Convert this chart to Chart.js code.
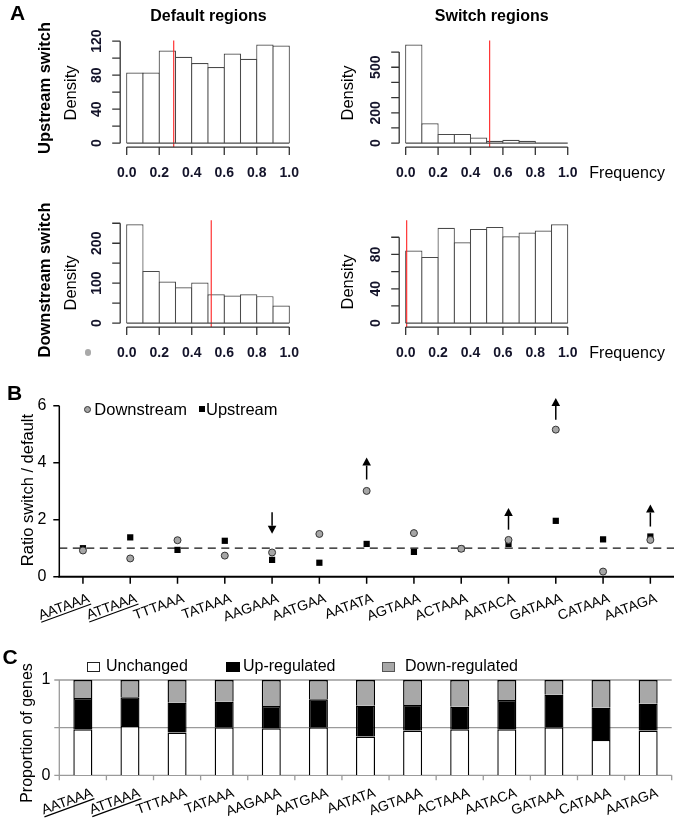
<!DOCTYPE html>
<html><head><meta charset="utf-8">
<script src="https://cdn.jsdelivr.net/npm/chart.js@4.4.1/dist/chart.umd.min.js"></script>
<style>
html,body{margin:0;padding:0;background:#fff;}
#fig{position:relative;width:679px;height:824px;overflow:hidden;font-family:"Liberation Sans",Arial,Helvetica,sans-serif;color:#000;}
#fig canvas{position:absolute;left:0;top:0;}
.t{position:absolute;white-space:nowrap;line-height:1;transform:translate(-50%,-50%);}
.rot{transform:translate(-50%,-50%) rotate(-90deg);}
.l{position:absolute;white-space:nowrap;line-height:1;transform:translateY(-50%);}
.b{font-weight:bold;}
.box{position:absolute;box-sizing:border-box;}
</style></head>
<body><div id="fig">
<canvas id="cUpDef" width="679" height="824"></canvas>
<canvas id="cUpSw" width="679" height="824"></canvas>
<canvas id="cDnDef" width="679" height="824"></canvas>
<canvas id="cDnSw" width="679" height="824"></canvas>
<canvas id="cRatio" width="679" height="824"></canvas>
<canvas id="cProp" width="679" height="824"></canvas>

<div class="t b" style="left:17.5px;top:11.5px;font-size:21px">A</div>
<div class="t b" style="left:208.5px;top:16px;font-size:16px">Default regions</div>
<div class="t b" style="left:491.7px;top:16px;font-size:16px">Switch regions</div>
<div class="t b rot" style="left:44px;top:88px;font-size:16.5px">Upstream switch</div>
<div class="t b rot" style="left:44px;top:280px;font-size:16.5px">Downstream switch</div>
<div class="t rot" style="left:70px;top:92.5px;font-size:16.5px">Density</div>
<div class="t rot" style="left:346.7px;top:93.3px;font-size:16.5px">Density</div>
<div class="t rot" style="left:70px;top:282.5px;font-size:16.5px">Density</div>
<div class="t rot" style="left:346.7px;top:281.7px;font-size:16.5px">Density</div>
<div class="l" style="left:589.3px;top:173.3px;font-size:16px">Frequency</div>
<div class="l" style="left:589.3px;top:353.3px;font-size:16px">Frequency</div>
<div class="box" style="left:84.5px;top:349px;width:6.5px;height:6.5px;border-radius:50%;background:#a9a9a9"></div>

<div class="t b" style="left:14.7px;top:391.7px;font-size:21px">B</div>
<div class="t rot" style="left:26.7px;top:490px;font-size:16.5px">Ratio switch / default</div>
<div class="box" style="left:83.7px;top:405.8px;width:7px;height:7px;border-radius:50%;background:#a6a6a6;border:1px solid #333"></div>
<div class="l" style="left:94.3px;top:409.3px;font-size:16.5px">Downstream</div>
<div class="box" style="left:198.7px;top:406.3px;width:6px;height:6px;background:#000"></div>
<div class="l" style="left:206px;top:409.3px;font-size:16.5px">Upstream</div>

<div class="t b" style="left:10px;top:656px;font-size:21px">C</div>
<div class="t rot" style="left:26.7px;top:733px;font-size:16px">Proportion of genes</div>
<div class="box" style="left:87.3px;top:661.7px;width:12.7px;height:10px;background:#fff;border:1px solid #222"></div>
<div class="l" style="left:106px;top:665.5px;font-size:16px">Unchanged</div>
<div class="box" style="left:226px;top:661.7px;width:14px;height:10px;background:#000"></div>
<div class="l" style="left:243px;top:665.5px;font-size:16px">Up-regulated</div>
<div class="box" style="left:381.7px;top:661.7px;width:13.3px;height:10px;background:#a8a8a8;border:1px solid #555"></div>
<div class="l" style="left:405px;top:665.5px;font-size:16px">Down-regulated</div>
</div>
<script>
const W = 679, H = 824;
const FONT = '"Liberation Sans", Arial, Helvetica, sans-serif';

// ---------- Panel A data ----------
const binCenters = [0.05, 0.15, 0.25, 0.35, 0.45, 0.55, 0.65, 0.75, 0.85, 0.95];
const binWidth = 0.1;
const freqTicks = [0, 0.2, 0.4, 0.6, 0.8, 1.0];
const freqTickLabels = ['0.0', '0.2', '0.4', '0.6', '0.8', '1.0'];

const upDefaultDensity = [83, 83, 109, 101.6, 94.2, 89.5, 105.5, 99.3, 116.1, 114.9];
const upSwitchDensity = [650, 131, 61, 61, 37, 15, 22, 15, 0, 0];
const downDefaultDensity = [247.5, 130.8, 104, 90, 101.7, 72.5, 69, 72.5, 67.5, 44];
const downSwitchDensity = [84.5, 77.1, 110.9, 94.2, 109.7, 112, 101.2, 105.4, 107.8, 115.1];

const upDefaultMarker = 0.289;
const upSwitchMarker = 0.518;
const downDefaultMarker = 0.52;
const downSwitchMarker = 0.006;

const upDefaultYTicks = [0, 20, 40, 60, 80, 100, 120];
const upDefaultYLabels = ['0', '', '40', '', '80', '', '120'];
const upSwitchYTicks = [0, 100, 200, 300, 400, 500, 600];
const upSwitchYLabels = ['0', '', '200', '', '', '500', ''];
const downDefaultYTicks = [0, 50, 100, 150, 200, 250];
const downDefaultYLabels = ['0', '', '100', '', '200', ''];
const downSwitchYTicks = [0, 20, 40, 60, 80, 100];
const downSwitchYLabels = ['0', '', '40', '', '80', ''];

// ---------- Panel B data ----------
const motifs = ['AATAAA', 'ATTAAA', 'TTTAAA', 'TATAAA', 'AAGAAA', 'AATGAA', 'AATATA',
                'AGTAAA', 'ACTAAA', 'AATACA', 'GATAAA', 'CATAAA', 'AATAGA'];
const underlinedMotifs = ['AATAAA', 'ATTAAA'];
const downstreamRatio = [0.92, 0.64, 1.28, 0.74, 0.85, 1.50, 3.01, 1.53, 0.98, 1.29, 5.16, 0.18, 1.29];
const upstreamRatio = [1.00, 1.38, 0.94, 1.26, 0.59, 0.49, 1.15, 0.87, 0.98, 1.15, 1.96, 1.31, 1.41];
const ratioTicks = [0, 2, 4, 6];
const ratioTickLabels = ['0', '2', '4', '6'];
const ratioReference = 1;
const arrowMotifs = ['AAGAAA', 'AATATA', 'AATACA', 'GATAAA', 'AATAGA'];
const arrowFrom = [2.26, 3.41, 1.65, 5.51, 1.76];
const arrowTo = [1.51, 4.18, 2.41, 6.27, 2.53];

// ---------- Panel C data ----------
const unchangedShare = [0.483, 0.517, 0.448, 0.503, 0.493, 0.503, 0.406, 0.469, 0.483, 0.483, 0.503, 0.371, 0.469];
const upRegulatedShare = [0.328, 0.301, 0.314, 0.270, 0.234, 0.294, 0.325, 0.269, 0.237, 0.307, 0.343, 0.339, 0.283];
const downRegulatedShare = [0.189, 0.182, 0.238, 0.227, 0.273, 0.203, 0.269, 0.262, 0.280, 0.210, 0.154, 0.290, 0.248];
const propTicks = [0, 0.5, 1];
const propTickLabels = ['0', '', '1'];

// ---------- helpers ----------
function pad(box) {
  return { left: box.l, top: box.t, right: W - box.r, bottom: H - box.b };
}
const baseOpts = { responsive: false, animation: false, events: [] };

function histAxesPlugin(yTicks, yLabels) {
  return {
    id: 'histAxes',
    afterDraw(chart) {
      const { ctx, chartArea: a, scales: { x, y } } = chart;
      ctx.save();
      // histogram baseline (bin bottoms)
      ctx.strokeStyle = '#4a4a4a'; ctx.lineWidth = 1.2;
      ctx.beginPath();
      ctx.moveTo(x.getPixelForValue(binCenters[0] - binWidth / 2), y.getPixelForValue(0));
      ctx.lineTo(x.getPixelForValue(binCenters[binCenters.length - 1] + binWidth / 2), y.getPixelForValue(0));
      ctx.stroke();
      // x axis
      ctx.strokeStyle = '#333'; ctx.lineWidth = 1.3;
      ctx.beginPath();
      ctx.moveTo(x.getPixelForValue(freqTicks[0]), a.bottom);
      ctx.lineTo(x.getPixelForValue(freqTicks[freqTicks.length - 1]), a.bottom);
      freqTicks.forEach(v => { const p = x.getPixelForValue(v); ctx.moveTo(p, a.bottom); ctx.lineTo(p, a.bottom + 8); });
      // y axis
      ctx.moveTo(a.left, y.getPixelForValue(yTicks[0]));
      ctx.lineTo(a.left, y.getPixelForValue(yTicks[yTicks.length - 1]));
      yTicks.forEach(v => { const p = y.getPixelForValue(v); ctx.moveTo(a.left, p); ctx.lineTo(a.left - 8, p); });
      ctx.stroke();
      ctx.fillStyle = '#14142a';
      ctx.font = 'bold 14px ' + FONT;
      ctx.textAlign = 'center'; ctx.textBaseline = 'middle';
      freqTicks.forEach((v, i) => ctx.fillText(freqTickLabels[i], x.getPixelForValue(v), a.bottom + 26));
      yTicks.forEach((v, i) => {
        if (!yLabels[i]) return;
        ctx.save();
        ctx.translate(a.left - 23, y.getPixelForValue(v));
        ctx.rotate(-Math.PI / 2);
        ctx.fillText(yLabels[i], 0, 0);
        ctx.restore();
      });
      ctx.restore();
    }
  };
}

function histChart(id, box, values, marker, yTicks, yLabels) {
  const top = Math.max(...values);
  const yMin = -0.04 * top, yMax = 1.04 * top;
  new Chart(document.getElementById(id), {
    type: 'bar',
    data: {
      datasets: [
        { type: 'line', data: [{ x: marker, y: yMin }, { x: marker, y: yMax }],
          borderColor: 'rgba(255,30,30,0.9)', borderWidth: 1.2, pointRadius: 0, order: 0, clip: false },
        { type: 'bar', data: binCenters.map((c, i) => ({ x: c, y: values[i] })),
          backgroundColor: '#fff', borderColor: '#4a4a4a', borderWidth: 1.2, borderSkipped: 'start',
          barPercentage: 1.07, categoryPercentage: 1, order: 1 }
      ]
    },
    options: Object.assign({}, baseOpts, {
      layout: { padding: pad(box) },
      scales: {
        x: { type: 'linear', offset: false, min: -0.04, max: 1.04, display: false },
        y: { type: 'linear', min: yMin, max: yMax, display: false }
      },
      plugins: { legend: { display: false }, tooltip: { enabled: false } }
    }),
    plugins: [histAxesPlugin(yTicks, yLabels)]
  });
}

histChart('cUpDef', { l: 120.2, r: 295.8, t: 40.5, b: 147.1 }, upDefaultDensity, upDefaultMarker, upDefaultYTicks, upDefaultYLabels);
histChart('cUpSw', { l: 399.2, r: 574.2, t: 40.5, b: 147.1 }, upSwitchDensity, upSwitchMarker, upSwitchYTicks, upSwitchYLabels);
histChart('cDnDef', { l: 120.2, r: 295.8, t: 220.3, b: 327.1 }, downDefaultDensity, downDefaultMarker, downDefaultYTicks, downDefaultYLabels);
histChart('cDnSw', { l: 399.2, r: 574.2, t: 220.3, b: 327.1 }, downSwitchDensity, downSwitchMarker, downSwitchYTicks, downSwitchYLabels);

// rotated category labels (shared by B and C)
function drawMotifLabels(ctx, xScale, axisY, dx, dy) {
  ctx.save();
  ctx.font = '14px ' + FONT;
  ctx.fillStyle = '#000'; ctx.strokeStyle = '#000';
  ctx.textAlign = 'right'; ctx.textBaseline = 'alphabetic';
  motifs.forEach((m, i) => {
    ctx.save();
    ctx.translate(xScale.getPixelForValue(i) + dx, axisY + dy);
    ctx.rotate(-20 * Math.PI / 180);
    ctx.fillText(m, 0, 0);
    if (underlinedMotifs.includes(m)) {
      const w = ctx.measureText(m).width;
      ctx.lineWidth = 1.2;
      ctx.beginPath(); ctx.moveTo(-w, 2.5); ctx.lineTo(0, 2.5); ctx.stroke();
    }
    ctx.restore();
  });
  ctx.restore();
}

// ---------- Panel B ----------
const ratioPlugin = {
  id: 'ratioAxes',
  beforeDatasetsDraw(chart) {
    const { ctx, chartArea: a, scales: { y } } = chart;
    ctx.save();
    ctx.strokeStyle = '#111'; ctx.lineWidth = 1.3; ctx.setLineDash([8, 5.5]);
    const p = y.getPixelForValue(ratioReference);
    ctx.beginPath(); ctx.moveTo(a.left, p); ctx.lineTo(a.right, p); ctx.stroke();
    ctx.restore();
  },
  afterDatasetsDraw(chart) {
    const { ctx, scales: { x, y } } = chart;
    ctx.save();
    ctx.strokeStyle = '#000'; ctx.fillStyle = '#000'; ctx.lineWidth = 1.5;
    arrowMotifs.forEach((m, i) => {
      const px = x.getPixelForValue(motifs.indexOf(m));
      const y0 = y.getPixelForValue(arrowFrom[i]), y1 = y.getPixelForValue(arrowTo[i]);
      const dir = Math.sign(y1 - y0), head = 8, hw = 4.3;
      ctx.beginPath(); ctx.moveTo(px, y0); ctx.lineTo(px, y1 - dir * head); ctx.stroke();
      ctx.beginPath(); ctx.moveTo(px, y1); ctx.lineTo(px - hw, y1 - dir * head); ctx.lineTo(px + hw, y1 - dir * head);
      ctx.closePath(); ctx.fill();
    });
    ctx.restore();
  },
  afterDraw(chart) {
    const { ctx, chartArea: a, scales: { x, y } } = chart;
    ctx.save();
    ctx.strokeStyle = '#000';
    ctx.lineWidth = 1.5;
    ctx.beginPath();
    ctx.moveTo(a.left, y.getPixelForValue(ratioTicks[0]));
    ctx.lineTo(a.left, y.getPixelForValue(ratioTicks[ratioTicks.length - 1]));
    ratioTicks.forEach(v => { const p = y.getPixelForValue(v); ctx.moveTo(a.left, p); ctx.lineTo(a.left - 6, p); });
    ctx.stroke();
    ctx.lineWidth = 2;
    ctx.beginPath(); ctx.moveTo(a.left - 1, a.bottom); ctx.lineTo(a.right, a.bottom); ctx.stroke();
    ctx.lineWidth = 1.5;
    ctx.beginPath();
    motifs.forEach((m, i) => { const p = x.getPixelForValue(i); ctx.moveTo(p, a.bottom); ctx.lineTo(p, a.bottom + 7); });
    ctx.stroke();
    ctx.fillStyle = '#000';
    ctx.font = '16px ' + FONT; ctx.textAlign = 'right'; ctx.textBaseline = 'middle';
    ratioTicks.forEach((v, i) => ctx.fillText(ratioTickLabels[i], a.left - 13, y.getPixelForValue(v)));
    ctx.restore();
    drawMotifLabels(ctx, x, a.bottom, 7.4, 25);
  }
};

new Chart(document.getElementById('cRatio'), {
  type: 'line',
  data: {
    labels: motifs,
    datasets: [
      { label: 'Downstream', data: downstreamRatio, showLine: false, pointStyle: 'circle', pointRadius: 3.5,
        pointBackgroundColor: '#a6a6a6', pointBorderColor: '#333', pointBorderWidth: 1, order: 0, clip: false },
      { label: 'Upstream', data: upstreamRatio, showLine: false, pointStyle: 'rect', pointRadius: 4.4,
        pointBackgroundColor: '#000', pointBorderColor: '#000', pointBorderWidth: 0, order: 1, clip: false }
    ]
  },
  options: Object.assign({}, baseOpts, {
    layout: { padding: pad({ l: 59.3, r: 675, t: 405.7, b: 576.7 }) },
    scales: {
      x: { type: 'category', offset: true, display: false },
      y: { type: 'linear', min: 0, max: 6, display: false }
    },
    plugins: { legend: { display: false }, tooltip: { enabled: false } }
  }),
  plugins: [ratioPlugin]
});

// ---------- Panel C ----------
const propPlugin = {
  id: 'propAxes',
  beforeDatasetsDraw(chart) {
    const { ctx, chartArea: a, scales: { x, y } } = chart;
    ctx.save();
    ctx.strokeStyle = '#9a9a9a'; ctx.lineWidth = 1.3;
    ctx.beginPath();
    propTicks.forEach(v => { const p = y.getPixelForValue(v); ctx.moveTo(a.left - 5, p); ctx.lineTo(a.right, p); });
    ctx.moveTo(a.left, y.getPixelForValue(propTicks[0]));
    ctx.lineTo(a.left, y.getPixelForValue(propTicks[propTicks.length - 1]));
    for (let i = 0; i <= motifs.length; i++) {
      const p = x.getPixelForValue(i - 0.5);
      ctx.moveTo(p, a.bottom); ctx.lineTo(p, a.bottom + 5);
    }
    ctx.stroke();
    ctx.restore();
  },
  afterDraw(chart) {
    const { ctx, chartArea: a, scales: { x, y } } = chart;
    ctx.save();
    ctx.fillStyle = '#000';
    ctx.font = '16px ' + FONT; ctx.textAlign = 'right'; ctx.textBaseline = 'middle';
    propTicks.forEach((v, i) => { if (propTickLabels[i]) ctx.fillText(propTickLabels[i], a.left - 9, y.getPixelForValue(v)); });
    ctx.restore();
    drawMotifLabels(ctx, x, a.bottom, 10.7, 21);
  }
};

new Chart(document.getElementById('cProp'), {
  type: 'bar',
  data: {
    labels: motifs,
    datasets: [
      { label: 'Unchanged', data: unchangedShare, backgroundColor: '#fff' },
      { label: 'Up-regulated', data: upRegulatedShare, backgroundColor: '#000' },
      { label: 'Down-regulated', data: downRegulatedShare, backgroundColor: '#a8a8a8' }
    ].map(d => Object.assign(d, { borderColor: '#000', borderWidth: 1.4, borderSkipped: 'start',
                                   barPercentage: 0.404, categoryPercentage: 1 }))
  },
  options: Object.assign({}, baseOpts, {
    layout: { padding: pad({ l: 59.3, r: 671.7, t: 680, b: 775.3 }) },
    scales: {
      x: { type: 'category', stacked: true, display: false },
      y: { type: 'linear', stacked: true, min: 0, max: 1, display: false }
    },
    plugins: { legend: { display: false }, tooltip: { enabled: false } }
  }),
  plugins: [propPlugin]
});
</script>
</body></html>
